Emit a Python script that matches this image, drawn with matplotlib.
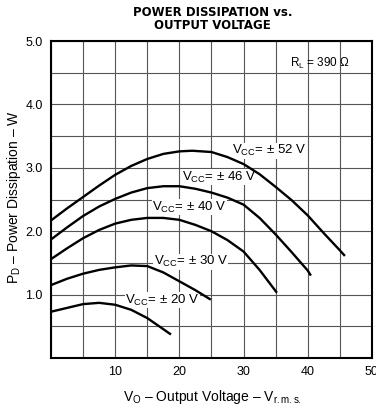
import matplotlib
matplotlib.use("Agg")
import matplotlib.pyplot as plt
from matplotlib.ticker import MultipleLocator, FixedLocator

plt.rcParams["font.family"] = ["Liberation Sans", "DejaVu Sans"]
plt.rcParams["mathtext.fontset"] = "custom"
plt.rcParams["mathtext.rm"] = "Liberation Sans"
plt.rcParams["mathtext.it"] = "Liberation Sans:italic"

# Power dissipation curves (Vo in V rms, Pd in W) for each supply voltage
vo_52 = [0, 2.5, 5, 7.5, 10, 12.5, 15, 17.5, 20, 22, 25, 27.5, 30, 32.5, 35, 37.5, 40, 42.5, 45, 45.8]
pd_52 = [2.17, 2.36, 2.54, 2.72, 2.89, 3.03, 3.14, 3.22, 3.26, 3.27, 3.25, 3.17, 3.06, 2.90, 2.70, 2.49, 2.25, 1.97, 1.70, 1.61]

vo_46 = [0, 2.5, 5, 7.5, 10, 12.5, 15, 17.5, 20, 22.5, 25, 27.5, 30, 32.5, 35, 37.5, 40, 40.5]
pd_46 = [1.87, 2.06, 2.24, 2.39, 2.51, 2.61, 2.68, 2.71, 2.71, 2.67, 2.61, 2.53, 2.42, 2.21, 1.95, 1.67, 1.38, 1.30]

vo_40 = [0, 2.5, 5, 7.5, 10, 12.5, 15, 17.5, 20, 22.5, 25, 27.5, 30, 32.5, 35.2]
pd_40 = [1.56, 1.73, 1.89, 2.02, 2.12, 2.18, 2.21, 2.21, 2.18, 2.10, 2.00, 1.86, 1.68, 1.39, 1.03]

vo_30 = [0, 2.5, 5, 7.5, 10, 12.5, 15, 17.5, 20, 22.5, 24.9]
pd_30 = [1.15, 1.25, 1.33, 1.39, 1.43, 1.46, 1.45, 1.35, 1.21, 1.07, 0.92]

vo_20 = [0, 2.5, 5, 7.5, 10, 12.5, 15, 17, 18.7]
pd_20 = [0.73, 0.79, 0.85, 0.87, 0.84, 0.76, 0.63, 0.49, 0.37]

curve_labels = ["±52", "±46", "±40", "±30", "±20"]
x_ticks = [10, 20, 30, 40, 50]
y_ticks = [1.0, 2.0, 3.0, 4.0, 5.0]

fig = plt.figure(figsize=(3.76, 4.11), dpi=100)
ax = fig.add_axes([0.1356, 0.129, 0.8534, 0.771])

for vo, pd in [(vo_52, pd_52), (vo_46, pd_46), (vo_40, pd_40), (vo_30, pd_30), (vo_20, pd_20)]:
    ax.plot(vo, pd, color="black", lw=1.7, solid_capstyle="butt", zorder=3)

ax.set_xlim(0, 50)
ax.set_ylim(0, 5)
ax.xaxis.set_major_locator(FixedLocator(x_ticks))
ax.xaxis.set_minor_locator(MultipleLocator(5))
ax.yaxis.set_major_locator(FixedLocator(y_ticks))
ax.yaxis.set_minor_locator(MultipleLocator(0.5))
ax.set_xticklabels([str(t) for t in x_ticks])
ax.set_yticklabels([f"{t:.1f}" for t in y_ticks])
ax.tick_params(which="both", length=0, labelsize=9, pad=6)
ax.grid(which="both", color="#555555", lw=0.8, zorder=1)
for s in ax.spines.values():
    s.set_linewidth(1.5)

label_pos = [(28.2, 3.27), (20.4, 2.85), (15.8, 2.38), (16.0, 1.52), (11.6, 0.91)]
for lab, (lx, ly) in zip(curve_labels, label_pos):
    ax.text(lx, ly, r"$\mathrm{V_{CC}}$= " + lab[0] + " " + lab[1:] + " V",
            fontsize=9.5, ha="left", va="center", zorder=2,
            bbox=dict(facecolor="white", edgecolor="none", pad=0.3))

ax.text(37.3, 4.64, r"$\mathrm{R_L}$ = 390 Ω", fontsize=8.5, ha="left", va="center")

fig.text(0.566, 0.970, "POWER DISSIPATION vs.", ha="center", va="center",
         fontsize=8.5, fontweight="bold", family="DejaVu Sans")
fig.text(0.566, 0.939, "OUTPUT VOLTAGE", ha="center", va="center",
         fontsize=8.5, fontweight="bold", family="DejaVu Sans")

fig.text(0.566, 0.035, r"$\mathrm{V_O}$ – Output Voltage – $\mathrm{V_{r.m.s.}}$",
         ha="center", va="center", fontsize=10)
fig.text(0.037, 0.52, r"$\mathrm{P_D}$ – Power Dissipation – W",
         ha="center", va="center", fontsize=10, rotation=90)

fig.savefig("out.png", dpi=100)
